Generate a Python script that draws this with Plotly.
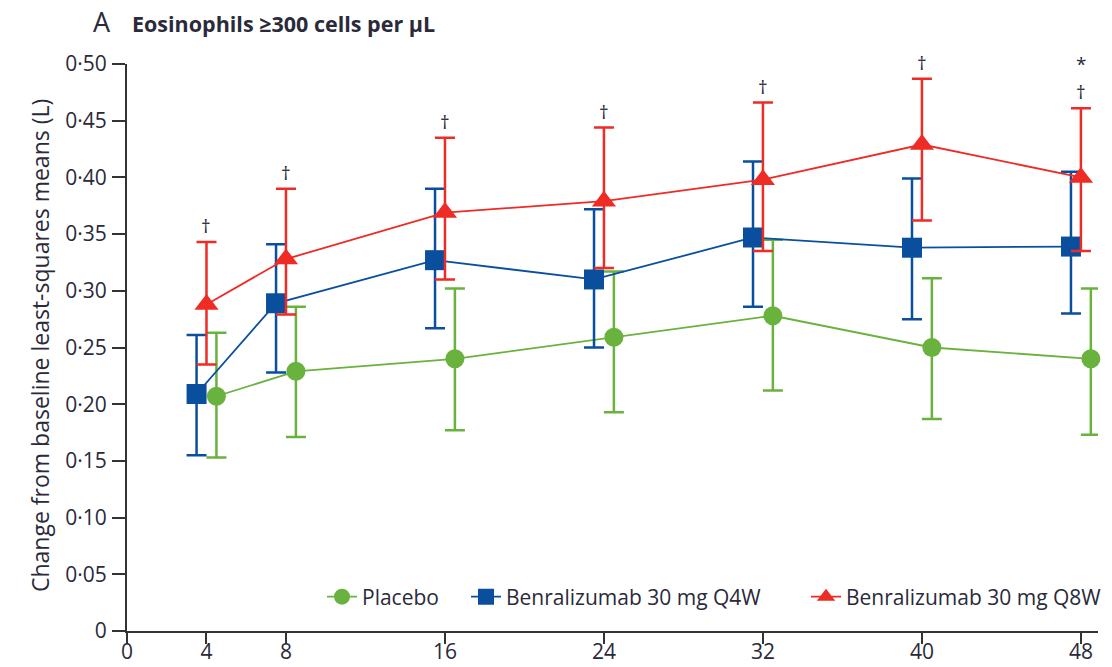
import plotly.graph_objects as go

# Study weeks and per-arm least-squares mean change in FEV1 (L) with 95% CI bounds
weeks = [4, 8, 16, 24, 32, 40, 48]

placebo_mean = [0.207, 0.229, 0.240, 0.259, 0.278, 0.250, 0.240]
placebo_upper = [0.263, 0.286, 0.302, 0.317, 0.345, 0.311, 0.302]
placebo_lower = [0.153, 0.171, 0.177, 0.193, 0.212, 0.187, 0.173]

q4w_mean = [0.209, 0.289, 0.327, 0.310, 0.347, 0.338, 0.339]
q4w_upper = [0.261, 0.341, 0.390, 0.372, 0.414, 0.399, 0.405]
q4w_lower = [0.155, 0.228, 0.267, 0.250, 0.286, 0.275, 0.280]

q8w_mean = [0.288, 0.328, 0.369, 0.379, 0.398, 0.429, 0.400]
q8w_upper = [0.343, 0.390, 0.435, 0.444, 0.466, 0.487, 0.461]
q8w_lower = [0.235, 0.279, 0.310, 0.320, 0.335, 0.362, 0.335]

# Significance marks above each Q8W upper bound
q8w_marks = ["†", "†", "†", "†", "†", "†", "†"]
extra_mark_week = 48
extra_mark_text = "*"

y_tickvals = [0, 0.05, 0.10, 0.15, 0.20, 0.25, 0.30, 0.35, 0.40, 0.45, 0.50]
y_ticktext = ["0", "0·05", "0·10", "0·15", "0·20", "0·25", "0·30", "0·35", "0·40", "0·45", "0·50"]
x_tickvals = [0, 4, 8, 16, 24, 32, 40, 48]

GREEN = "#6ab23e"
BLUE = "#0a4f9e"
RED = "#ee2b24"
TEXT = "#2a2a3a"
AXIS = "#333333"
FONT = "'Open Sans', 'Liberation Sans', Arial, sans-serif"

W, H = 1112, 667
plot_left, plot_right, plot_top, plot_bottom = 127, 1098, 64, 631
plot_w = plot_right - plot_left
plot_h = plot_bottom - plot_top


def px_x(px):
    return (px - plot_left) / plot_w


def px_y(py):
    return (plot_bottom - py) / plot_h


# name, values, colour, marker symbol, marker size, week offset, legend id, legend left edge (px)
series = [
    ("Placebo", placebo_mean, placebo_upper, placebo_lower, GREEN, "circle", 19, 0.5, "legend", 322),
    ("Benralizumab 30 mg Q4W", q4w_mean, q4w_upper, q4w_lower, BLUE, "square", 20, -0.5, "legend2", 466),
    ("Benralizumab 30 mg Q8W", q8w_mean, q8w_upper, q8w_lower, RED, "triangle-up", 21, 0.0, "legend3", 806),
]

fig = go.Figure()
legend_layouts = {}
for name, mean, upper, lower, color, symbol, size, offset, leg, leg_left in series:
    fig.add_trace(go.Scatter(
        x=[w + offset for w in weeks],
        y=mean,
        name=name,
        legend=leg,
        mode="lines+markers",
        line=dict(color=color, width=1.8),
        marker=dict(color=color, symbol=symbol, size=size, line=dict(width=0)),
        error_y=dict(
            type="data",
            symmetric=False,
            array=[u - m for u, m in zip(upper, mean)],
            arrayminus=[m - l for m, l in zip(mean, lower)],
            color=color,
            thickness=2.5,
            width=10,
        ),
        cliponaxis=False,
    ))
    legend_layouts[leg] = dict(
        orientation="h",
        x=px_x(leg_left), xanchor="left",
        y=px_y(597), yanchor="middle",
        bgcolor="rgba(0,0,0,0)",
        borderwidth=0,
        font=dict(family=FONT, size=21, color=TEXT),
        itemsizing="trace",
    )

annotations = []
for w, top, mark in zip(weeks, q8w_upper, q8w_marks):
    annotations.append(dict(
        x=w, y=top, xref="x", yref="y", text=mark, showarrow=False,
        yanchor="bottom", yshift=1, font=dict(family=FONT, size=19, color=TEXT),
    ))
annotations.append(dict(
    x=extra_mark_week, y=q8w_upper[-1], xref="x", yref="y", text=extra_mark_text,
    showarrow=False, yanchor="bottom", yshift=29,
    font=dict(family=FONT, size=19, color=TEXT),
))

# Panel letter and heading
annotations.append(dict(
    x=px_x(91), y=px_y(22), xref="paper", yref="paper", text="A", showarrow=False,
    xanchor="left", yanchor="middle", font=dict(family=FONT, size=27, color=TEXT),
))
annotations.append(dict(
    x=px_x(130), y=px_y(23), xref="paper", yref="paper",
    text="<b>Eosinophils ≥300 cells per µL</b>",
    showarrow=False, xanchor="left", yanchor="middle",
    font=dict(family=FONT, size=21.5, color=TEXT),
))
# Y-axis title
annotations.append(dict(
    x=px_x(40), y=px_y(346), xref="paper", yref="paper",
    text="Change from baseline least-squares means (L)", showarrow=False,
    textangle=-90, xanchor="center", yanchor="middle",
    font=dict(family=FONT, size=23, color=TEXT),
))

fig.update_layout(
    width=W,
    height=H,
    margin=dict(l=plot_left, r=W - plot_right, t=plot_top, b=H - plot_bottom, autoexpand=False),
    paper_bgcolor="white",
    plot_bgcolor="white",
    font=dict(family=FONT, size=22, color=TEXT),
    showlegend=True,
    annotations=annotations,
    xaxis=dict(
        range=[0, 48.86],
        tickvals=x_tickvals,
        ticktext=[str(v) for v in x_tickvals],
        showgrid=False, zeroline=False,
        showline=True, linecolor=AXIS, linewidth=2,
        ticks="outside", ticklen=11, tickwidth=2, tickcolor=AXIS,
        tickfont=dict(family=FONT, size=21, color=TEXT),
        ticklabelstandoff=-10,
        automargin=False,
    ),
    yaxis=dict(
        range=[0, 0.5],
        tickvals=y_tickvals,
        ticktext=y_ticktext,
        showgrid=False, zeroline=False,
        showline=True, linecolor=AXIS, linewidth=2,
        ticks="outside", ticklen=13, tickwidth=2, tickcolor=AXIS,
        tickfont=dict(family=FONT, size=21, color=TEXT),
        ticklabelstandoff=1,
        automargin=False,
    ),
    **legend_layouts,
)

fig.write_html("out.html")
